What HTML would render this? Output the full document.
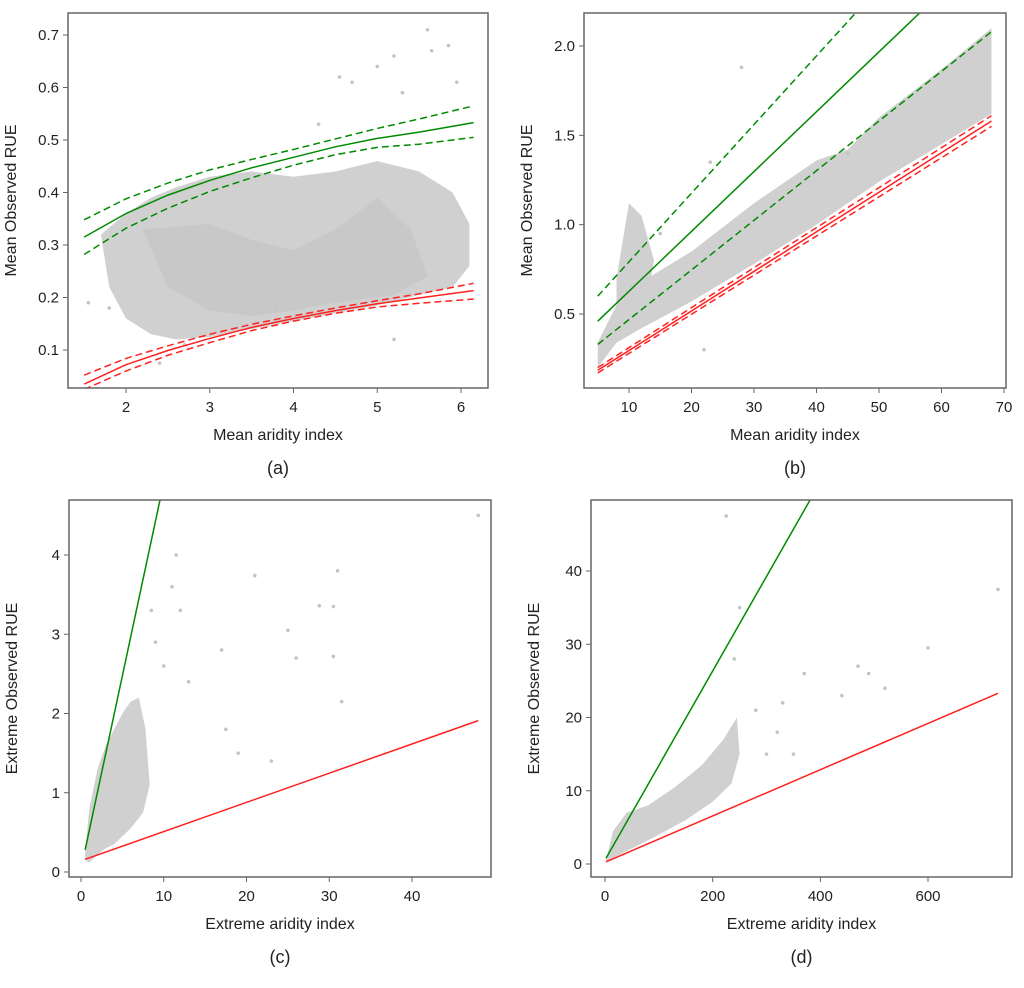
<!DOCTYPE html>
<html><head><meta charset="utf-8"><style>
body{margin:0;background:#fff;}
svg text{font-family:"Liberation Sans",sans-serif;fill:#222;}
</style></head><body>
<svg id="fig" width="1024" height="983" viewBox="0 0 1024 983" xmlns="http://www.w3.org/2000/svg"></svg>
<script>
// ---------- data ----------
// panel a
const aXTicks=[2,3,4,5,6];
const aYTicks=[0.1,0.2,0.3,0.4,0.5,0.6,0.7];
const aX=[1.5,2,2.5,3,3.5,4,4.5,5,5.5,6.15];
const aGreen=[0.315,0.36,0.395,0.423,0.447,0.467,0.487,0.503,0.515,0.533];
const aGreenHi=[0.348,0.388,0.418,0.443,0.463,0.482,0.502,0.522,0.540,0.565];
const aGreenLo=[0.282,0.332,0.370,0.402,0.428,0.452,0.472,0.486,0.492,0.505];
const aRed=[0.035,0.072,0.099,0.122,0.143,0.160,0.175,0.188,0.199,0.213];
const aRedHi=[0.052,0.084,0.108,0.130,0.149,0.165,0.180,0.194,0.207,0.227];
const aRedLo=[0.025,0.060,0.090,0.114,0.137,0.155,0.170,0.182,0.189,0.197];
const aCloudX=[1.7,2,2.3,2.6,3,3.5,4,4.5,5,5.5,5.9,6.1,6.1,5.9,5.5,5,4.5,4,3.5,3,2.6,2.3,2,1.8];
const aCloudY=[0.32,0.36,0.39,0.41,0.43,0.44,0.43,0.44,0.46,0.44,0.40,0.34,0.26,0.22,0.205,0.185,0.17,0.155,0.14,0.125,0.12,0.13,0.16,0.22];
const aCoreX=[2.2,3,3.5,4,4.5,5,5.4,5.6,5.2,4.5,4,3.5,3,2.5];
const aCoreY=[0.33,0.34,0.31,0.29,0.33,0.39,0.33,0.24,0.205,0.19,0.175,0.165,0.175,0.22];
const aOutX=[1.55,1.8,2.4,2.7,4.55,4.7,5.0,5.2,5.6,5.65,5.85,5.95,3.8,5.3,5.2,4.3];
const aOutY=[0.19,0.18,0.075,0.11,0.62,0.61,0.64,0.66,0.71,0.67,0.68,0.61,0.18,0.59,0.12,0.53];
// panel b
const bXTicks=[10,20,30,40,50,60,70];
const bYTicks=[0.5,1.0,1.5,2.0];
const bX=[5,68];
const bGreen=[0.46,2.57];
const bGreenHi=[0.60,3.02];
const bGreenLo=[0.33,2.08];
const bRed=[0.185,1.58];
const bRedHi=[0.20,1.61];
const bRedLo=[0.17,1.55];
const bCloudX=[5,8,12,20,30,40,45,50,60,68,68,60,50,40,30,20,12,8,5];
const bCloudY=[0.34,0.55,0.68,0.85,1.12,1.36,1.42,1.6,1.87,2.1,1.62,1.45,1.24,1.0,0.78,0.57,0.42,0.34,0.2];
const bBlobX=[8,10,12,14,13,10,8];
const bBlobY=[0.7,1.12,1.05,0.8,0.6,0.5,0.55];
const bOutX=[28,22,23,15,45];
const bOutY=[1.88,0.3,1.35,0.95,1.4];
// panel c
const cXTicks=[0,10,20,30,40];
const cYTicks=[0,1,2,3,4];
const cX=[0.5,9.6];
const cGreen=[0.28,4.72];
const cRedX=[0.5,48];
const cRed=[0.16,1.91];
const cCloudX=[0.5,1,2,3,4,5,6,7,7.8,8.3,7.5,6,5,4,3,2,1,0.5];
const cCloudY=[0.25,0.8,1.3,1.6,1.8,2.0,2.15,2.2,1.8,1.1,0.75,0.55,0.45,0.35,0.3,0.22,0.12,0.15];
const cOutX=[11.5,8.5,11,12,21,28.8,30.5,31,25,26,30.5,31.5,17,17.5,19,23,48,10,9,13];
const cOutY=[4.0,3.3,3.6,3.3,3.74,3.36,3.35,3.8,3.05,2.7,2.72,2.15,2.8,1.8,1.5,1.4,4.5,2.6,2.9,2.4];
// panel d
const dXTicks=[0,200,400,600];
const dYTicks=[0,10,20,30,40];
const dX=[2,381];
const dGreen=[0.8,49.7];
const dRedX=[2,730];
const dRed=[0.3,23.3];
const dCloudX=[0,15,40,80,130,180,220,245,250,235,200,150,100,60,20,0];
const dCloudY=[0,4.5,7,8,10.5,13.5,17,20,15,11,8.5,6,4,2.5,1,0.2];
const dOutX=[225,250,280,330,370,440,470,490,520,600,730,240,300,350,320];
const dOutY=[47.5,35,21,22,26,23,27,26,24,29.5,37.5,28,15,15,18];

// ---------- drawing ----------
const NS="http://www.w3.org/2000/svg";
const svg=document.getElementById('fig');
function el(tag,attrs,parent){const e=document.createElementNS(NS,tag);for(const k in attrs)e.setAttribute(k,attrs[k]);(parent||svg).appendChild(e);return e;}
function panel(cfg){
  const g=el('g',{});
  
  
  const sx=v=>cfg.x0+(v-cfg.xv0)*(cfg.x1-cfg.x0)/(cfg.xv1-cfg.xv0);
  const sy=v=>cfg.y0+(v-cfg.yv0)*(cfg.y1-cfg.y0)/(cfg.yv1-cfg.yv0);
  const cp=el('clipPath',{id:'cp'+cfg.id},g);
  el('rect',{x:cfg.L,y:cfg.T,width:cfg.R-cfg.L,height:cfg.B-cfg.T},cp);
  const plot=el('g',{'clip-path':'url(#cp'+cfg.id+')'},g);
  const poly=(xs,ys,fill,name)=>{const p=el('polygon',{points:xs.map((x,i)=>sx(x)+','+sy(ys[i])).join(' '),fill:fill},plot);
    };
  poly(cfg.cloudX,cfg.cloudY,'#d0d0d0','point-cloud');
  if(cfg.coreX)poly(cfg.coreX,cfg.coreY,'#c8c8c8','point-cloud-core');
  if(cfg.blobX)poly(cfg.blobX,cfg.blobY,'#d0d0d0','point-cloud-cluster');
  cfg.outX.forEach((x,i)=>{const c=el('circle',{cx:sx(x),cy:sy(cfg.outY[i]),r:1.8,fill:'#c4c4c4'},plot);
    });
  cfg.lines.forEach(ln=>{const p=el('polyline',{points:ln.x.map((x,i)=>sx(x)+','+sy(ln.y[i])).join(' '),fill:'none',stroke:ln.c,'stroke-width':1.5,'stroke-dasharray':ln.d?'7,4':'none'},plot);
    });
  const box=el('rect',{x:cfg.L,y:cfg.T,width:cfg.R-cfg.L,height:cfg.B-cfg.T,fill:'none',stroke:'#666','stroke-width':1.5},g);
  
  cfg.xt.forEach(v=>{el('line',{x1:sx(v),x2:sx(v),y1:cfg.B,y2:cfg.B+5,stroke:'#666'},g);
    const t=el('text',{x:sx(v),y:cfg.B+24,'text-anchor':'middle','font-size':15},g);t.textContent=v;
    });
  cfg.yt.forEach(v=>{el('line',{x1:cfg.L-5,x2:cfg.L,y1:sy(v),y2:sy(v),stroke:'#666'},g);
    const t=el('text',{x:cfg.L-9,y:sy(v)+5,'text-anchor':'end','font-size':15},g);t.textContent=cfg.yf?cfg.yf(v):v;
    });
  const xt=el('text',{x:(cfg.L+cfg.R)/2,y:cfg.B+52,'text-anchor':'middle','font-size':16},g);xt.textContent=cfg.xl;
  
  const yx=cfg.L-52;
  const yt=el('text',{x:yx,y:(cfg.T+cfg.B)/2,'text-anchor':'middle','font-size':16,transform:'rotate(-90 '+yx+' '+(cfg.T+cfg.B)/2+')'},g);yt.textContent=cfg.yl;
  
  const lt=el('text',{x:(cfg.L+cfg.R)/2,y:cfg.B+86,'text-anchor':'middle','font-size':18},g);lt.textContent=cfg.lab;
  
}
panel({id:'a',name:'panel-a',L:68,R:488,T:13,B:388,x0:126,xv0:2,x1:461,xv1:6,y0:350,yv0:0.1,y1:35,yv1:0.7,
  xt:aXTicks,yt:aYTicks,yf:v=>v.toFixed(1),xl:'Mean aridity index',yl:'Mean Observed RUE',lab:'(a)',
  cloudX:aCloudX,cloudY:aCloudY,coreX:aCoreX,coreY:aCoreY,outX:aOutX,outY:aOutY,
  lines:[{x:aX,y:aGreen,c:'#008a00',n:'green-fit-line'},{x:aX,y:aGreenHi,c:'#008a00',d:1,n:'green-upper-ci'},{x:aX,y:aGreenLo,c:'#008a00',d:1,n:'green-lower-ci'},
  {x:aX,y:aRed,c:'#ff2020',n:'red-fit-line'},{x:aX,y:aRedHi,c:'#ff2020',d:1,n:'red-upper-ci'},{x:aX,y:aRedLo,c:'#ff2020',d:1,n:'red-lower-ci'}]});
panel({id:'b',name:'panel-b',L:584,R:1006,T:13,B:388,x0:629,xv0:10,x1:1004,xv1:70,y0:314,yv0:0.5,y1:46,yv1:2.0,
  xt:bXTicks,yt:bYTicks,yf:v=>v.toFixed(1),xl:'Mean aridity index',yl:'Mean Observed RUE',lab:'(b)',
  cloudX:bCloudX,cloudY:bCloudY,blobX:bBlobX,blobY:bBlobY,outX:bOutX,outY:bOutY,
  lines:[{x:bX,y:bGreen,c:'#008a00',n:'green-fit-line'},{x:bX,y:bGreenHi,c:'#008a00',d:1,n:'green-upper-ci'},{x:bX,y:bGreenLo,c:'#008a00',d:1,n:'green-lower-ci'},
  {x:bX,y:bRed,c:'#ff2020',n:'red-fit-line'},{x:bX,y:bRedHi,c:'#ff2020',d:1,n:'red-upper-ci'},{x:bX,y:bRedLo,c:'#ff2020',d:1,n:'red-lower-ci'}]});
panel({id:'c',name:'panel-c',L:69,R:491,T:500,B:877,x0:81,xv0:0,x1:412,xv1:40,y0:872,yv0:0,y1:555,yv1:4,
  xt:cXTicks,yt:cYTicks,xl:'Extreme aridity index',yl:'Extreme Observed RUE',lab:'(c)',
  cloudX:cCloudX,cloudY:cCloudY,outX:cOutX,outY:cOutY,
  lines:[{x:cX,y:cGreen,c:'#008a00',n:'green-fit-line'},{x:cRedX,y:cRed,c:'#ff2020',n:'red-fit-line'}]});
panel({id:'d',name:'panel-d',L:591,R:1012,T:500,B:877,x0:605,xv0:0,x1:928,xv1:600,y0:864,yv0:0,y1:571,yv1:40,
  xt:dXTicks,yt:dYTicks,xl:'Extreme aridity index',yl:'Extreme Observed RUE',lab:'(d)',
  cloudX:dCloudX,cloudY:dCloudY,outX:dOutX,outY:dOutY,
  lines:[{x:dX,y:dGreen,c:'#008a00',n:'green-fit-line'},{x:dRedX,y:dRed,c:'#ff2020',n:'red-fit-line'}]});
</script>
</body></html>
